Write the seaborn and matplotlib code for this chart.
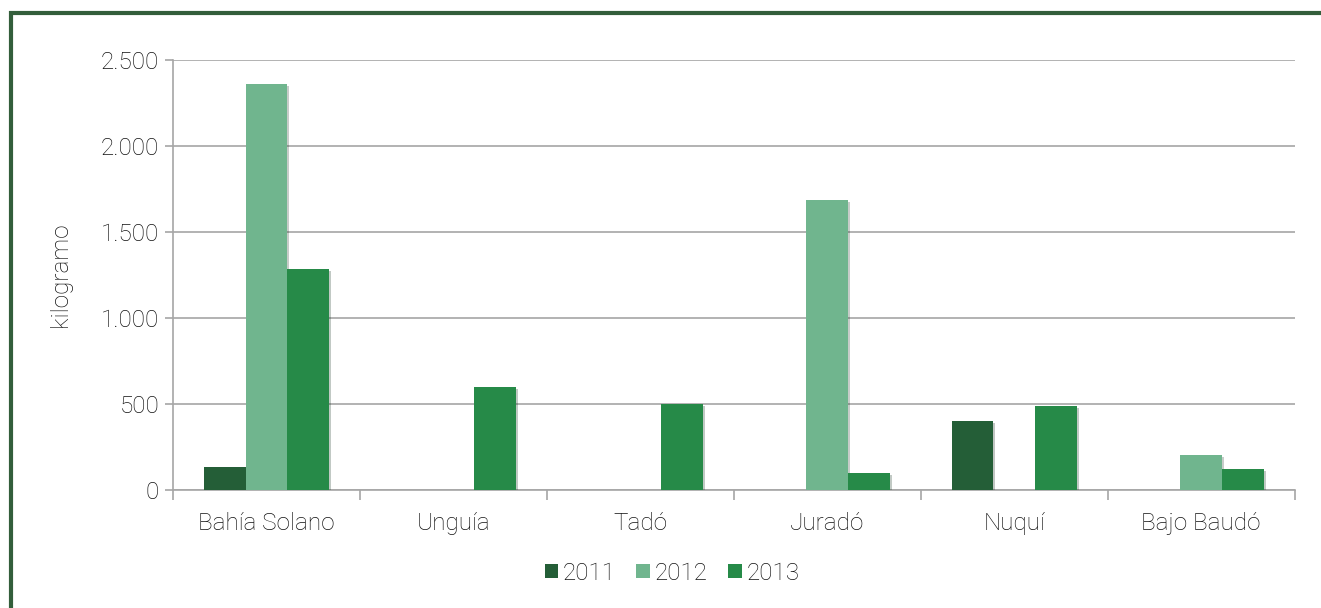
import seaborn as sns
import matplotlib.pyplot as plt
import matplotlib.patheffects as pe
from matplotlib.lines import Line2D
from matplotlib.ticker import FuncFormatter, FixedLocator
import pandas as pd

municipios = ['Bahía Solano', 'Unguía', 'Tadó', 'Juradó', 'Nuquí', 'Bajo Baudó']
anios = ['2011', '2012', '2013']
kg_2011 = [135, 0, 0, 0, 400, 0]
kg_2012 = [2360, 0, 0, 1685, 0, 205]
kg_2013 = [1285, 600, 500, 100, 490, 122]
colores = ['#245e37', '#70b58e', '#268a48']

df = pd.DataFrame({
    'municipio': municipios * 3,
    'anio': [a for a in anios for _ in municipios],
    'kg': kg_2011 + kg_2012 + kg_2013,
})

sns.set_style("white")
plt.rcParams['font.family'] = ['Roboto', 'DejaVu Sans']
plt.rcParams['font.weight'] = 'light'
texto = '#111111'
fs = 17.5

fig = plt.figure(figsize=(13.21, 6.08), dpi=100)
ax = fig.add_axes([0.131, 0.194, 0.849, 0.707])

sns.barplot(data=df, x='municipio', y='kg', hue='anio', palette=colores,
            width=0.67, saturation=1, linewidth=0, ax=ax, zorder=3)

for p in ax.patches:
    if p.get_height() > 0:
        p.set_path_effects([pe.SimplePatchShadow(offset=(1.5, -1.5), alpha=0.25), pe.Normal()])

ax.set_ylim(0, 2500)
ax.set_xlim(-0.5, len(municipios) - 0.5)
ax.set_yticks(range(0, 2501, 500))
ax.yaxis.set_major_formatter(FuncFormatter(lambda v, _: f'{int(v):,}'.replace(',', '.')))
ax.yaxis.grid(True, color='#a6a6a6', linewidth=1.2, zorder=0)

ax.xaxis.set_major_locator(FixedLocator([i - 0.5 for i in range(len(municipios) + 1)]))
ax.xaxis.set_minor_locator(FixedLocator(range(len(municipios))))
ax.set_xticklabels([], minor=False)
ax.set_xticklabels(municipios, minor=True, fontweight='light')
ax.tick_params(axis='x', which='major', length=7, width=1.2, color='#a6a6a6', direction='out', bottom=True)
ax.tick_params(axis='x', which='minor', length=0, labelsize=fs, labelcolor=texto, pad=16)
ax.tick_params(axis='y', length=6, width=1.2, color='#a6a6a6', direction='out', left=True,
               labelsize=fs, labelcolor=texto, pad=4)

for s in ['top', 'right']:
    ax.spines[s].set_visible(False)
for s in ['left', 'bottom']:
    ax.spines[s].set_color('#a6a6a6')
    ax.spines[s].set_linewidth(1.2)

ax.set_xlabel('')
ax.set_ylabel('kilogramo', fontsize=fs, color=texto, fontweight='light', labelpad=21)

leg = ax.legend(loc='center', bbox_to_anchor=(0.445, -0.193), ncol=3, frameon=False,
                fontsize=fs, handlelength=0.55, handleheight=0.55, handletextpad=0.2,
                columnspacing=0.85, labelcolor=texto)
for h in leg.legend_handles:
    h.set_linewidth(0)

fx = 11 / 1321
fy = 1 - 13 / 608
fig.add_artist(Line2D([fx, fx, 1], [0, fy, fy], transform=fig.transFigure,
                      color='#335e3b', linewidth=3, solid_joinstyle='miter'))

fig.savefig('out.png', dpi=100, facecolor='white')
